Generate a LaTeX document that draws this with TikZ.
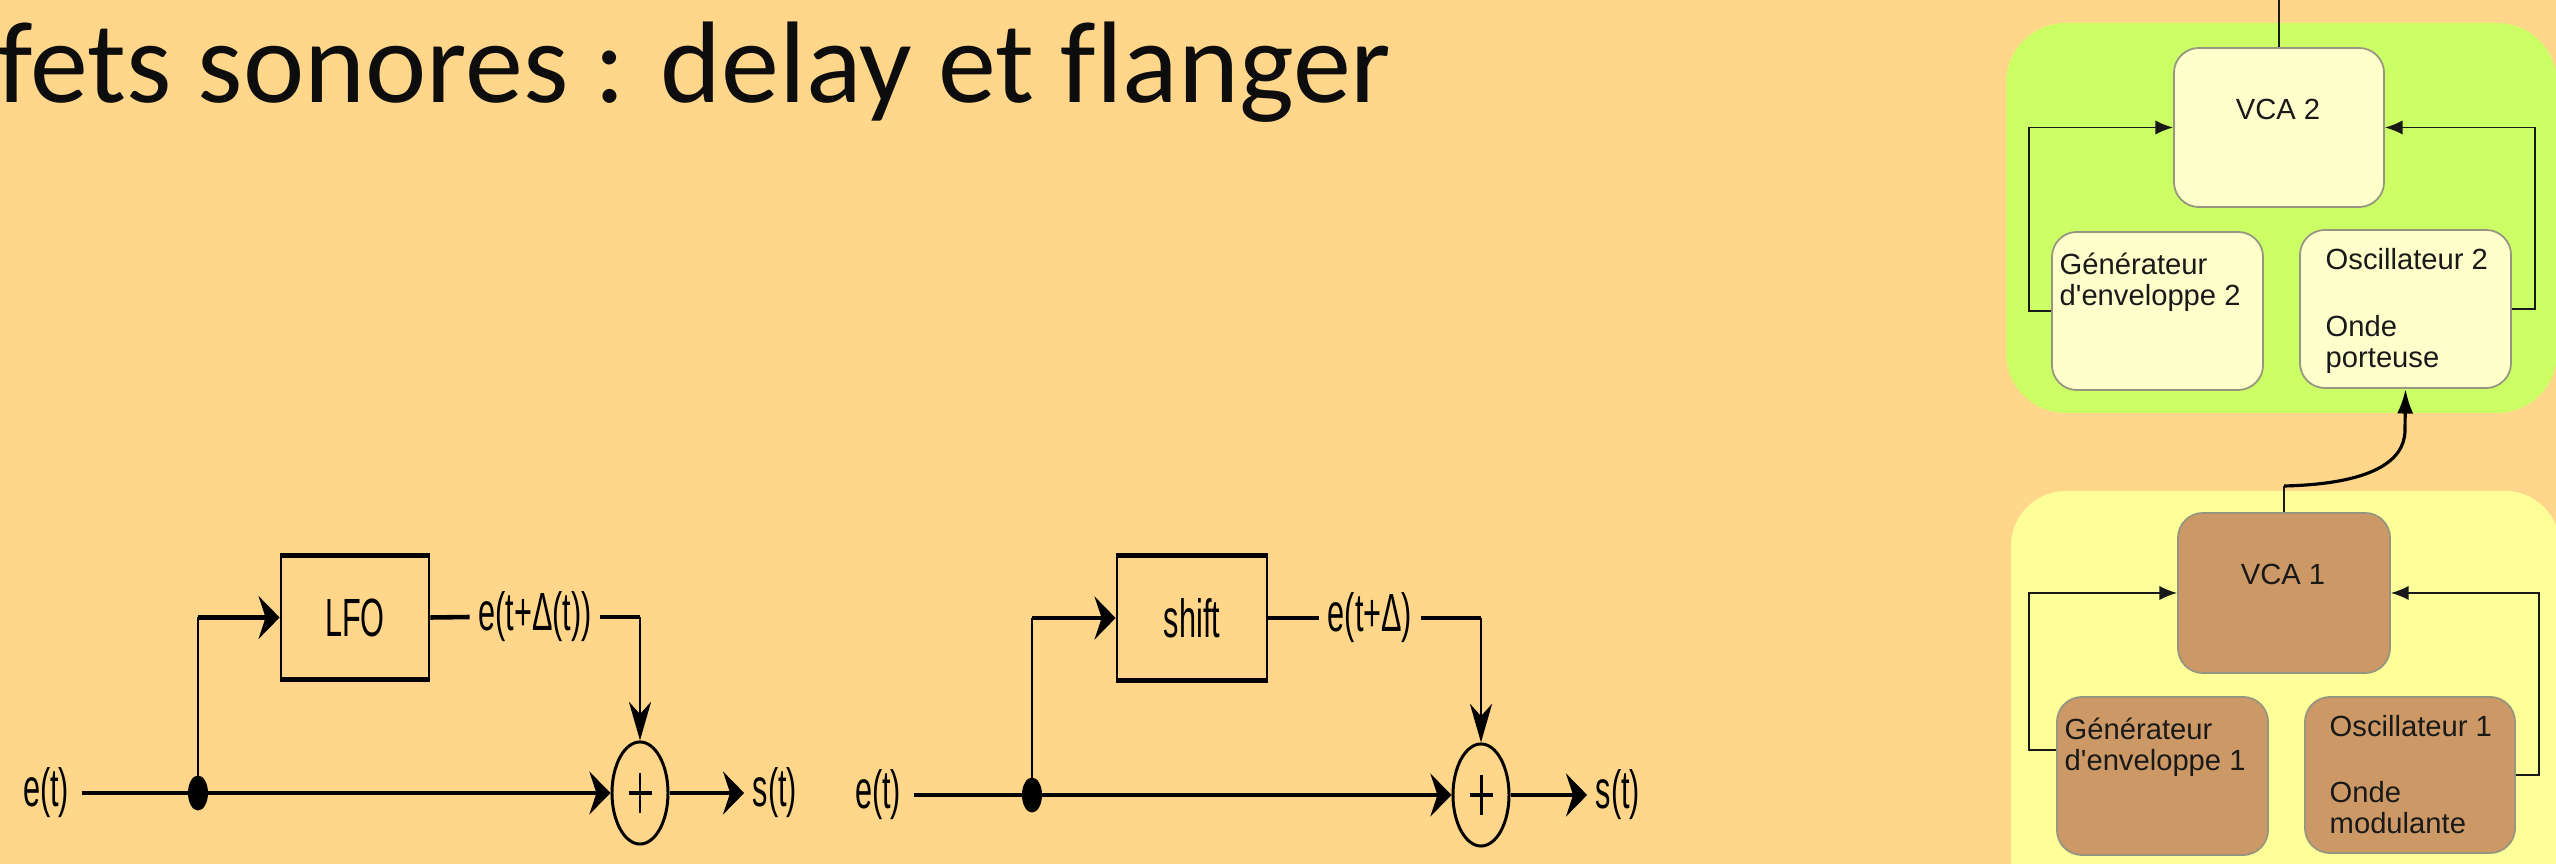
\documentclass[tikz,border=0pt]{standalone}
\usepackage{fontspec}
\setmainfont{Liberation Sans}
\newfontfamily\titlefont{Carlito}[Ligatures={NoCommon}]
\newfontfamily\lfont{Liberation Sans}
\newfontfamily\rfont{Liberation Sans}
\usetikzlibrary{arrows.meta,shapes.geometric}
\definecolor{bgc}{RGB}{255,214,138}
\definecolor{greenp}{RGB}{204,255,102}
\definecolor{yellowp}{RGB}{255,255,153}
\definecolor{creamb}{RGB}{255,255,204}
\definecolor{brownb}{RGB}{204,153,102}
\definecolor{boxline}{RGB}{150,150,128}
\definecolor{txt}{RGB}{25,25,25}
\newcommand\dl[1]{\scalebox{0.57}[1]{\lfont\fontsize{15.3}{18}\selectfont #1}}
\tikzset{
  hl/.style={line width=1.3pt},
  vl/.style={line width=0.8pt},
  harr/.style={-{Stealth[length=6pt,width=12.2pt,inset=2pt]}},
  varr/.style={-{Stealth[length=11pt,width=6.3pt,inset=3.5pt]}},
  lbl/.style={inner ysep=0pt, inner xsep=0.08cm},
  blk/.style={draw, line width=0.75pt, inner sep=0pt},
  sumn/.style={draw, ellipse, line width=0.85pt, minimum width=0.56cm, minimum height=1.02cm, inner sep=0pt},
  dotn/.style={fill, ellipse, minimum width=0.2cm, minimum height=0.35cm, inner sep=0pt},
  rbox/.style={draw=boxline, line width=0.5pt, rounded corners=0.25cm, inner sep=0pt},
  rt/.style={inner sep=0pt, text=txt, font=\rfont\fontsize{8.3}{8.8}\selectfont},
  rarr/.style={line width=0.4pt, draw=txt, -{Latex[length=5pt,width=4pt]}},
}
\begin{document}
\begin{tikzpicture}[x=0.01cm,y=-0.01cm]
\fill[bgc] (0,0) rectangle (2556,864);
\useasboundingbox (0,0) rectangle (2556,864);

% title
\node[anchor=base west, inner sep=0pt, font=\titlefont\fontsize{33}{40}\selectfont, text=black!95] (title) at (-3,103) {fets sonores : delay et flanger};

% ---------- diagram A (LFO) ----------
\node[lbl, inner xsep=0.12cm] (etA) at (46,793) {\dl{e(t)}};
\node[dotn] (dA) at (198,793) {};
\node[blk, minimum width=1.48cm, minimum height=1.21cm] (lfo) at (355,617.5) {\dl{LFO}};
\node[lbl] (dlA) at (535,617) {\dl{e(t+Δ(t))}};
\node[sumn] (sA) at (640,793) {};
\node[lbl] (stA) at (775,793) {\dl{s(t)}};
\draw[hl] (lfo.north west) -- (lfo.north east);
\draw[hl] (lfo.south west) -- (lfo.south east);
\draw[hl] (etA.east) -- (dA.center);
\draw[hl, harr] (dA.center) -- (sA.west);
\draw[vl] (dA.center) -- (dA.center |- lfo.west);
\draw[hl, harr] (dA.center |- lfo.west) -- (lfo.west);
\draw[hl] (lfo.east) -- (dlA.west);
\draw[hl] (dlA.east) -- (dlA.east -| sA.north);
\draw[vl, varr] (dlA.east -| sA.north) -- (sA.north);
\draw[hl, harr] (sA.east) -- (stA.west);
\draw[line width=0.85pt] (sA.center) ++(0,-20) -- ++(0,40);
\draw[line width=1.1pt] (sA.center) ++(-11.5,0) -- ++(23,0);

% ---------- diagram B (shift) ----------
\node[lbl, inner xsep=0.12cm] (etB) at (878,795) {\dl{e(t)}};
\node[dotn] (dB) at (1032,795) {};
\node[blk, minimum width=1.50cm, minimum height=1.22cm] (sh) at (1192,618) {\dl{shift}};
\node[lbl] (dlB) at (1370,618) {\dl{e(t+Δ)}};
\node[sumn] (sB) at (1481,795) {};
\node[lbl] (stB) at (1618,795) {\dl{s(t)}};
\draw[hl] (sh.north west) -- (sh.north east);
\draw[hl] (sh.south west) -- (sh.south east);
\draw[hl] (etB.east) -- (dB.center);
\draw[hl, harr] (dB.center) -- (sB.west);
\draw[vl] (dB.center) -- (dB.center |- sh.west);
\draw[hl, harr] (dB.center |- sh.west) -- (sh.west);
\draw[hl] (sh.east) -- (dlB.west);
\draw[hl] (dlB.east) -- (dlB.east -| sB.north);
\draw[vl, varr] (dlB.east -| sB.north) -- (sB.north);
\draw[hl, harr] (sB.east) -- (stB.west);
\draw[line width=0.85pt] (sB.center) ++(0,-20) -- ++(0,40);
\draw[line width=1.1pt] (sB.center) ++(-11.5,0) -- ++(23,0);

% ---------- right panels ----------
\fill[greenp, rounded corners=0.6cm] (2006,23) rectangle (2557,413);
\fill[yellowp, rounded corners=0.55cm] (2011,491) rectangle (2560,930);

\node[rbox, fill=creamb, minimum width=2.10cm, minimum height=1.59cm] (vca2) at (2279,127.5) {};
\node[rbox, fill=creamb, minimum width=2.11cm, minimum height=1.58cm] (gen2) at (2157.5,311) {};
\node[rbox, fill=creamb, minimum width=2.11cm, minimum height=1.58cm] (osc2) at (2405.5,309) {};
\node[rbox, fill=brownb, minimum width=2.12cm, minimum height=1.60cm] (vca1) at (2284,593) {};
\node[rbox, fill=brownb, minimum width=2.11cm, minimum height=1.58cm] (gen1) at (2162.5,776) {};
\node[rbox, fill=brownb, minimum width=2.10cm, minimum height=1.56cm] (osc1) at (2410,775) {};

\node[rt, anchor=base] (tv2) at (2278,120) {VCA 2};
\node[rt, anchor=base west] (tg2) at (2059,275) {\begin{tabular}[t]{@{}l@{}}Générateur\\d'enveloppe 2\end{tabular}};
\node[rt, anchor=base west] (to2) at (2325,270) {Oscillateur 2};
\node[rt, anchor=base west] (tp2) at (2325,337) {\begin{tabular}[t]{@{}l@{}}Onde\\porteuse\end{tabular}};
\node[rt, anchor=base] (tv1) at (2283,585) {VCA 1};
\node[rt, anchor=base west] (tg1) at (2064,740) {\begin{tabular}[t]{@{}l@{}}Générateur\\d'enveloppe 1\end{tabular}};
\node[rt, anchor=base west] (to1) at (2329,737) {Oscillateur 1};
\node[rt, anchor=base west] (tm1) at (2329,803) {\begin{tabular}[t]{@{}l@{}}Onde\\modulante\end{tabular}};

\coordinate (topend) at (2279,0);
\coordinate (cstart) at (2284,486);
\draw[line width=0.4pt, draw=txt] (vca2.north) -- (topend);
\draw[rarr] (gen2.west) -- ++(-22,0) |- (vca2.west);
\draw[rarr] (osc2.east) -- ++(23,0) |- (vca2.east);
\draw[rarr] ([yshift=0.26cm]gen1.west) -- ++(-27,0) |- (vca1.west);
\draw[rarr] (osc1.east) -- ++(23,0) |- (vca1.east);
\draw[line width=0.4pt, draw=txt] (vca1.north) -- (cstart);
\draw[line width=0.9pt, -{Latex[length=7pt,width=4.6pt]}] (cstart) .. controls (2370,484) and (2405,462) .. (2405,430) -- (osc2.south);
\end{tikzpicture}
\end{document}
